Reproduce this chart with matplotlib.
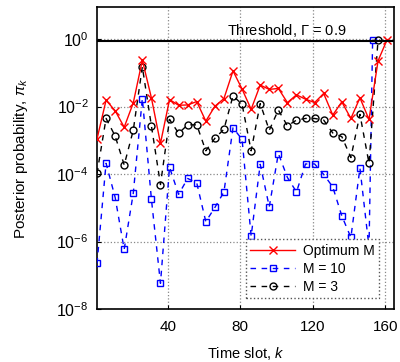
import numpy as np
import matplotlib
matplotlib.use("Agg")
import matplotlib.pyplot as plt

plt.rcParams['font.family'] = ['Liberation Sans', 'DejaVu Sans']
plt.rcParams['mathtext.fontset'] = 'custom'
plt.rcParams['mathtext.rm'] = 'Liberation Sans'
plt.rcParams['mathtext.it'] = 'Liberation Sans:italic'

# ---- data (log10 of posterior probability) ----
k_opt = list(range(1, 162, 5))
log_opt = [-2.96, -1.81, -2.12, -2.61, -1.89, -0.62, -1.74, -3.09, -1.79, -1.96,
           -1.95, -1.85, -2.43, -1.99, -1.76, -0.94, -1.48, -2.08, -1.36, -1.49,
           -1.46, -1.88, -1.65, -1.78, -1.88, -1.61, -2.25, -1.86, -2.35, -1.74,
           -2.38, -0.64, -0.01]

k_m10 = list(range(1, 152, 5)) + [153]
log_m10 = [-6.65, -3.68, -4.69, -6.23, -4.57, -1.76, -4.74, -7.24, -3.80, -4.60,
           -4.13, -4.26, -5.41, -4.99, -4.53, -2.63, -2.97, -5.84, -3.71, -4.97,
           -3.39, -4.10, -4.53, -3.70, -3.70, -4.01, -4.38, -5.24, -5.88, -3.82,
           -6.17, -0.01]

k_m3 = list(range(1, 157, 5))
log_m3 = [-3.98, -2.35, -2.87, -3.73, -2.70, -0.82, -2.57, -4.31, -2.38, -2.79,
          -2.54, -2.54, -3.31, -2.94, -2.67, -1.68, -1.93, -3.31, -1.91, -2.70,
          -2.10, -2.57, -2.40, -2.35, -2.35, -2.40, -2.78, -2.89, -3.51, -2.23,
          -3.68, -0.01]

threshold = 0.9
xticks = [40, 80, 120, 160]
yticks = [1e-8, 1e-6, 1e-4, 1e-2, 1e0]
ytick_labels = [r'$10^{-8}$', r'$10^{-6}$', r'$10^{-4}$', r'$10^{-2}$', r'$10^{0}$']

p_opt = 10.0 ** np.array(log_opt)
p_m10 = 10.0 ** np.array(log_m10)
p_m3 = 10.0 ** np.array(log_m3)

fig = plt.figure(figsize=(4.0, 3.62), dpi=100)
ax = fig.add_axes([0.2425, 0.1464, 0.7435, 0.8343])

ax.plot(k_opt, p_opt, color='red', lw=1.0, marker='x', ms=6, mew=1.0,
        label='Optimum M', zorder=4)
ax.plot(k_m10, p_m10, color='blue', lw=1.0, ls=(0, (4, 4)), marker='s', ms=5,
        mfc='none', mew=1.0, label='M = 10', zorder=3)
ax.plot(k_m3, p_m3, color='black', lw=1.0, ls=(0, (4, 4)), marker='o', ms=5,
        mfc='none', mew=1.0, label='M = 3', zorder=3)

ax.axhline(threshold, color='black', lw=1.5, zorder=5)
ax.text(72.5, 1.0, r'Threshold, $\Gamma$ = 0.9', fontsize=10.5, ha='left', va='bottom')

ax.set_yscale('log')
ax.set_xlim(1, 165)
ax.set_ylim(1e-8, 9)
ax.set_xticks(xticks)
ax.set_yticks(yticks)
ax.set_yticklabels(ytick_labels)
ax.minorticks_off()
ax.tick_params(direction='in', labelsize=11, length=3)
ax.tick_params(axis='x', pad=8)
ax.tick_params(axis='y', pad=6, labelsize=11.5)
ax.grid(True, color='#888888', ls=':', lw=0.9)
for s in ax.spines.values():
    s.set_linewidth(1.2)

ax.set_xlabel(r'Time slot, $k$', fontsize=10.5, labelpad=8)
ax.set_ylabel(r'Posterior probability, $\pi_k$', fontsize=11, labelpad=19)

leg = ax.legend(loc='lower right', bbox_to_anchor=(0.972, 0.013), fontsize=10,
                handlelength=3.2, handletextpad=0.6, labelspacing=0.3,
                borderpad=0.3, fancybox=False, framealpha=1, edgecolor='#555555')
leg.get_frame().set_linestyle(':')
leg.get_frame().set_linewidth(1.0)

fig.savefig('out.png', dpi=100)
